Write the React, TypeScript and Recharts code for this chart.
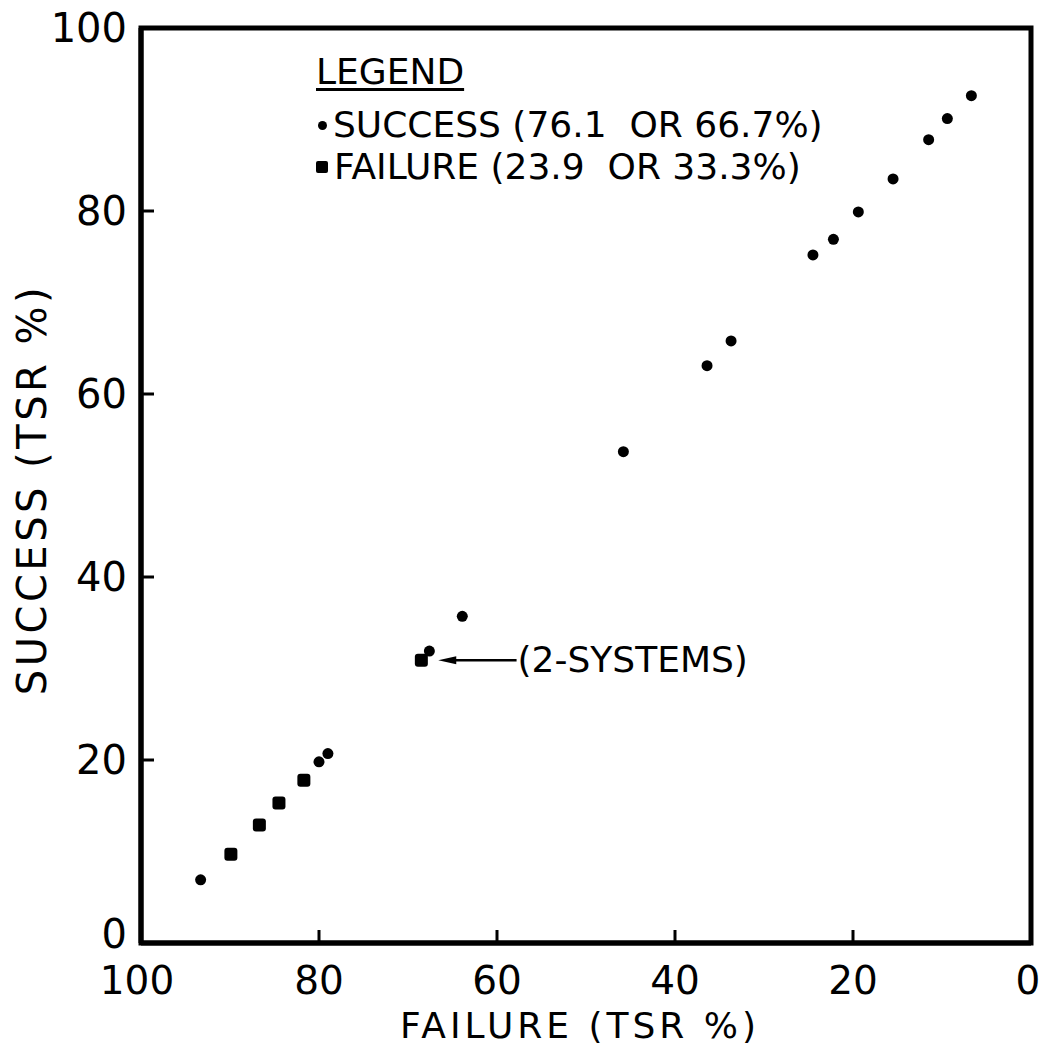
import React from 'react';
import { ScatterChart, Scatter, XAxis, YAxis, ReferenceArea, ReferenceLine, Legend } from 'recharts';

// Success points (circles): failure % (x) and success % (y)
const successX = [93.3, 80.0, 79.0, 67.6, 63.9, 45.8, 36.4, 33.7, 24.5, 22.2, 19.4, 15.5, 11.5, 9.4, 6.7];
const successY = [6.9, 19.8, 20.7, 31.9, 35.7, 53.7, 63.1, 65.8, 75.2, 76.9, 79.9, 83.5, 87.8, 90.1, 92.6];
// Failure points (squares)
const failureX = [89.9, 86.7, 84.5, 81.7, 68.5];
const failureY = [9.7, 12.9, 15.3, 17.8, 30.9];

const xTicks = [100, 80, 60, 40, 20, 0];
const yTicks = [0, 20, 40, 60, 80, 100];

const legendItems = [
  { name: 'SUCCESS (76.1  OR 66.7%)', marker: 'circle' },
  { name: 'FAILURE (23.9  OR 33.3%)', marker: 'square' },
];

const annotationText = '(2-SYSTEMS)';
const annotationFrom = { x: 57.8, y: 30.9 };
const annotationTo = { x: 66.6, y: 30.9 };

const successData = successX.map((x, i) => ({ failure: x, success: successY[i] }));
const failureData = failureX.map((x, i) => ({ failure: x, success: failureY[i] }));

const FONT = '"DejaVu Sans", sans-serif';

const XTick = (props: any) => {
  const { x, y, payload } = props;
  const isLast = payload.value === 0;
  const isFirst = payload.value === 100;
  return (
    <g>
      <line x1={x} y1={y} x2={x} y2={y - 13} stroke="#000" strokeWidth={3} />
      <text
        x={isLast ? x - 3 : isFirst ? x - 4 : x}
        y={y + 51}
        textAnchor="middle"
        fontSize={39}
        fontFamily={FONT}
        fill="#000"
      >
        {payload.value}
      </text>
    </g>
  );
};

const YTick = (props: any) => {
  const { x, y, payload } = props;
  const isZero = payload.value === 0;
  return (
    <g>
      <line x1={x} y1={y} x2={x + 13} y2={y} stroke="#000" strokeWidth={3} />
      <text x={x - 14} y={isZero ? y + 5 : y + 14} textAnchor="end" fontSize={40} fontFamily={FONT} fill="#000">
        {payload.value}
      </text>
    </g>
  );
};

const XTitle = (props: any) => {
  const { viewBox } = props;
  const { x, y, width, height } = viewBox;
  return (
    <text
      x={x + width / 2 - 6}
      y={y + height - 8}
      textAnchor="middle"
      fontSize={36}
      letterSpacing={4}
      fontFamily={FONT}
      fill="#000"
    >
      FAILURE (TSR %)
    </text>
  );
};

const YTitle = (props: any) => {
  const { viewBox } = props;
  const { x, y, height } = viewBox;
  return (
    <text
      transform={`translate(${x + 46}, ${y + height / 2 + 4}) rotate(-90)`}
      textAnchor="middle"
      fontSize={40}
      letterSpacing={3.5}
      fontFamily={FONT}
      fill="#000"
    >
      SUCCESS (TSR %)
    </text>
  );
};

const CircleDot = (props: any) => {
  const { cx, cy } = props;
  return <circle cx={cx} cy={cy} r={5.5} fill="#000" />;
};

const SquareDot = (props: any) => {
  const { cx, cy } = props;
  return <rect x={cx - 6.5} y={cy - 6.5} width={13} height={13} rx={3} fill="#000" />;
};

const ArrowShape = (props: any) => {
  const { x1, y1, x2, y2 } = props;
  const left = Math.min(x1, x2);
  const right = Math.max(x1, x2);
  const yy = y1;
  return (
    <g>
      <line x1={left + 10} y1={yy} x2={right} y2={y2} stroke="#000" strokeWidth={2.5} />
      <polygon points={`${left},${yy} ${left + 18},${yy - 4} ${left + 18},${yy + 4}`} fill="#000" />
      <text x={right + 1} y={yy + 12} fontSize={36} fontFamily={FONT} fill="#000">
        {annotationText}
      </text>
    </g>
  );
};

const LegendContent = () => (
  <div style={{ fontFamily: FONT, color: '#000', whiteSpace: 'pre' }}>
    <div
      style={{
        fontSize: 36,
        lineHeight: '40px',
        textDecoration: 'underline',
        textDecorationThickness: 3,
        textUnderlineOffset: 4,
        marginLeft: 4,
        marginBottom: 12,
      }}
    >
      LEGEND
    </div>
    {legendItems.map((it) => (
      <div key={it.name} style={{ fontSize: 36, lineHeight: '42px', display: 'flex', alignItems: 'center' }}>
        <span
          style={{
            display: 'inline-block',
            width: it.marker === 'circle' ? 9 : 12,
            height: it.marker === 'circle' ? 9 : 12,
            borderRadius: it.marker === 'circle' ? '50%' : 2,
            background: '#000',
            marginRight: 6,
            marginLeft: it.marker === 'circle' ? 6 : 4,
          }}
        />
        <span>{it.name}</span>
      </div>
    ))}
  </div>
);

export default function App() {
  return (
    <div style={{ position: 'absolute', left: 0, top: 0, width: 1042, height: 1046, background: '#fff' }}>
      <ScatterChart width={1042} height={1046} margin={{ top: 28, right: 11, left: 0, bottom: 0 }}>
        <XAxis
          type="number"
          dataKey="failure"
          domain={[0, 100]}
          reversed
          ticks={xTicks}
          height={103}
          tickSize={0}
          tickMargin={0}
          tickLine={false}
          axisLine={{ stroke: '#000', strokeWidth: 5 }}
          tick={<XTick />}
          interval={0}
          allowDataOverflow
          label={<XTitle />}
        />
        <YAxis
          type="number"
          dataKey="success"
          domain={[0, 100]}
          ticks={yTicks}
          width={141}
          tickSize={0}
          tickMargin={0}
          tickLine={false}
          axisLine={{ stroke: '#000', strokeWidth: 5 }}
          tick={<YTick />}
          interval={0}
          allowDataOverflow
          label={<YTitle />}
        />
        <ReferenceArea x1={0} x2={100} y1={0} y2={100} fill="none" stroke="#000" strokeWidth={5} />
        <ReferenceLine segment={[annotationTo, annotationFrom]} shape={<ArrowShape />} />
        <Scatter name="SUCCESS" data={successData} shape={<CircleDot />} isAnimationActive={false} />
        <Scatter name="FAILURE" data={failureData} shape={<SquareDot />} isAnimationActive={false} />
        <Legend
          layout="horizontal"
          verticalAlign="middle"
          align="center"
          content={<LegendContent />}
          wrapperStyle={{ top: 52, left: 312, width: 560, height: 150 }}
        />
      </ScatterChart>
    </div>
  );
}
